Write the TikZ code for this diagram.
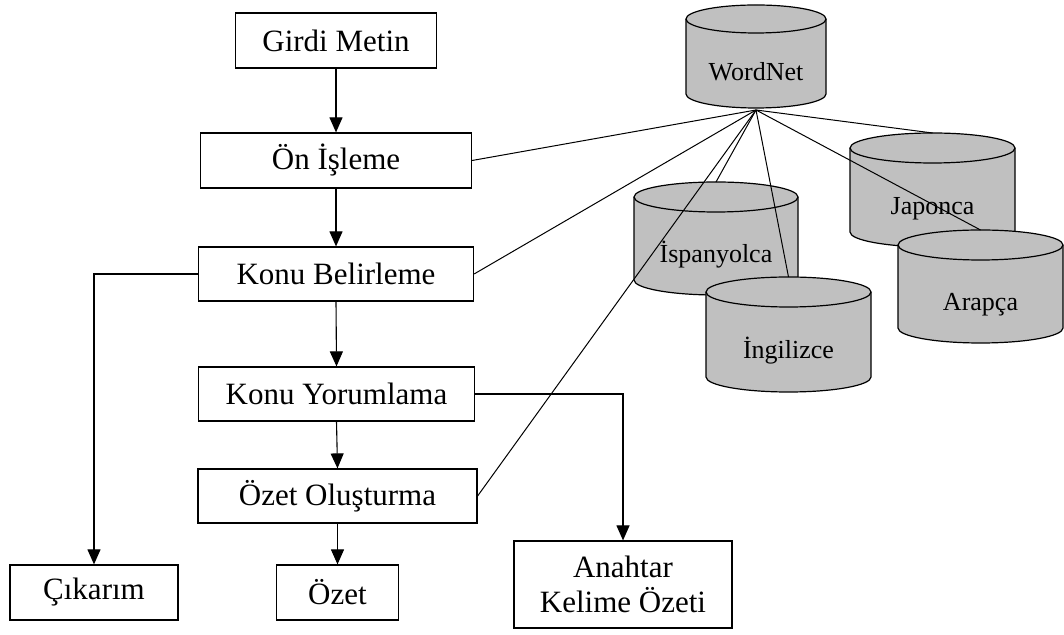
\documentclass[tikz,border=0pt]{standalone}
\usepackage{fontspec}
\setmainfont{Liberation Serif}
\usetikzlibrary{arrows.meta}
\definecolor{dbgray}{RGB}{192,192,192}
\tikzset{
  x=1pt, y=1pt,
  box/.style={draw, line width=1.2pt, fill=white, inner sep=0pt, font=\fontsize{31}{35}\selectfont, align=center},
  flow/.style={line width=1.1pt, -{Triangle[length=15pt,width=13pt]}},
  link/.style={line width=1pt},
  cylbody/.style={fill=dbgray, draw, line width=1.2pt},
  cyltext/.style={inner sep=0pt, font=\fontsize{26}{30}\selectfont, text height=18pt, text depth=5pt}
}
% #1 name, #2 cx, #3 cy, #4 w, #5 h, #6 ry, #7 label
\newcommand\dbcyl[7]{%
  \path[cylbody] ({#2-#4/2},{#3+#5/2-#6}) -- ({#2-#4/2},{#3-#5/2+#6})
    arc[start angle=180,end angle=360,x radius={#4/2},y radius=#6]
    -- ({#2+#4/2},{#3+#5/2-#6})
    arc[start angle=0,end angle=180,x radius={#4/2},y radius=#6] -- cycle;
  \draw[line width=1.2pt] ({#2-#4/2},{#3+#5/2-#6})
    arc[start angle=180,end angle=360,x radius={#4/2},y radius=#6];
  \node[cyltext] (#1) at (#2,{#3-18}) {#7};
  \coordinate (#1-top) at (#2,{#3+#5/2});
  \coordinate (#1-bot) at (#2,{#3-#5/2});
}
\begin{document}
\begin{tikzpicture}
\useasboundingbox (0,0) rectangle (1064,634);
% flow boxes
\node[box, minimum width=201pt, minimum height=55pt] (girdi) at (336,593.5) {Girdi Metin};
\node[box, minimum width=271pt, minimum height=55pt] (on) at (336,473.5) {Ön İşleme};
\node[box, minimum width=275pt, minimum height=54pt] (konub) at (336,360) {Konu Belirleme};
\node[box, minimum width=276pt, minimum height=54pt] (konuy) at (336.5,240) {Konu Yorumlama};
\node[box, minimum width=279pt, minimum height=54pt] (ozeto) at (337.5,138) {Özet Oluşturma};
\node[box, minimum width=168pt, minimum height=55pt] (cik) at (94,41.5) {Çıkarım};
\node[box, minimum width=122pt, minimum height=55pt] (ozet) at (337.5,41.5) {Özet};
\node[box, minimum width=218pt, minimum height=87pt] (anahtar) at (623,49.5) {Anahtar\\Kelime Özeti};
% databases
\dbcyl{jap}{932.5}{444}{165}{114}{15}{Japonca}
\dbcyl{ara}{980.5}{347.5}{165}{113}{15}{Arapça}
\dbcyl{isp}{716}{395.5}{164}{113}{15}{İspanyolca}
\dbcyl{ing}{788.5}{299.5}{165}{115}{15}{İngilizce}
\dbcyl{wn}{756}{577.5}{140}{103}{14}{WordNet}
\coordinate (hub) at (756,524);
% flow arrows
\draw[flow] (girdi.south) -- (on.north);
\draw[flow] (on.south) -- (konub.north);
\draw[flow] (konub.south) -- (konuy.north);
\draw[flow] (konuy.south) -- (ozeto.north);
\draw[flow] (ozeto.south) -- (ozet.north);
\draw[flow] (konub.west) -| (cik.north);
\draw[flow] (konuy.east) -| (anahtar.north);
% WordNet links
\draw[link] (hub) -- (on.east);
\draw[link] (hub) -- (konub.east);
\draw[link] (hub) -- (ozeto.east);
\draw[link] (hub) -- (isp-top);
\draw[link] (hub) -- (ing-top);
\draw[link] (hub) -- (jap-top);
\draw[link] (hub) -- (ara-top);
\end{tikzpicture}
\end{document}
